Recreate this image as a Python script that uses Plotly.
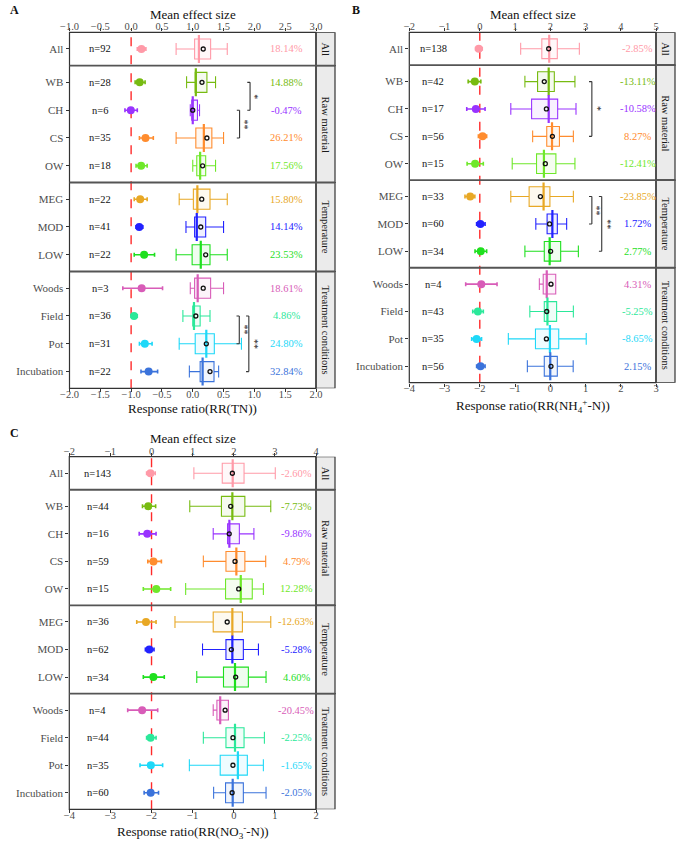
import plotly.graph_objects as go

# ---------------- data ----------------
group_names = ["All", "Raw material", "Temperature", "Treatment conditions"]
group_cats = [["All"], ["WB", "CH", "CS", "OW"], ["MEG", "MOD", "LOW"],
              ["Woods", "Field", "Pot", "Incubation"]]
categories = [c for g in group_cats for c in g]
colors = ["#FF9AA8", "#77BB11", "#9933FF", "#FF8C2E", "#6FE82A", "#E8A825",
          "#2222FF", "#1EE01E", "#D85CB8", "#2BE89A", "#1ED8F8", "#3B73DB"]

# Panel A : TN
nA = [92, 28, 6, 35, 18, 22, 41, 22, 3, 36, 31, 22]
pctA = [18.14, 14.88, -0.47, 26.21, 17.56, 15.80, 14.14, 23.53, 18.61, 4.86, 24.80, 32.84]
effA = [0.167, 0.139, -0.005, 0.233, 0.162, 0.147, 0.132, 0.211, 0.171, 0.047, 0.222, 0.284]
ciloA = [0.10, 0.065, -0.10, 0.135, 0.08, 0.05, 0.08, 0.05, -0.135, 0.0, 0.135, 0.16]
cihiA = [0.24, 0.227, 0.10, 0.36, 0.26, 0.26, 0.19, 0.38, 0.51, 0.10, 0.34, 0.43]
wloA = [-0.27, -0.10, -0.04, -0.27, 0.00, -0.22, -0.11, -0.27, -0.04, -0.16, -0.22, -0.055]
q1A = [0.03, 0.04, -0.016, 0.05, 0.065, 0.01, 0.03, -0.01, 0.03, 0.0, 0.04, 0.12]
medA = [0.10, 0.05, 0.0, 0.18, 0.12, 0.075, 0.065, 0.13, 0.08, 0.02, 0.22, 0.16]
q3A = [0.29, 0.23, 0.076, 0.31, 0.21, 0.28, 0.21, 0.28, 0.29, 0.12, 0.35, 0.345]
whiA = [0.56, 0.37, 0.11, 0.50, 0.37, 0.56, 0.50, 0.56, 0.50, 0.28, 0.79, 0.42]
meanA = [0.17, 0.15, 0.0, 0.23, 0.16, 0.146, 0.13, 0.21, 0.17, 0.05, 0.22, 0.28]

# Panel B : NH4+-N
nB = [138, 42, 17, 56, 15, 33, 60, 34, 4, 43, 35, 56]
pctB = [-2.85, -13.11, -10.58, 8.27, -12.41, -23.85, 1.72, 2.77, 4.31, -5.25, -8.65, 2.15]
effB = [-0.029, -0.141, -0.112, 0.079, -0.133, -0.272, 0.017, 0.027, 0.042, -0.054, -0.091, 0.021]
ciloB = [-0.12, -0.33, -0.37, -0.04, -0.36, -0.42, -0.09, -0.135, -0.40, -0.20, -0.23, -0.09]
cihiB = [0.07, 0.03, 0.15, 0.195, 0.10, -0.14, 0.15, 0.195, 0.49, 0.10, 0.05, 0.15]
wloB = [-0.84, -0.72, -1.12, -0.50, -1.08, -1.12, -0.41, -0.72, -0.31, -0.58, -1.19, -0.65]
q1B = [-0.24, -0.36, -0.53, -0.10, -0.39, -0.60, -0.09, -0.17, -0.20, -0.17, -0.42, -0.17]
medB = [-0.03, -0.045, -0.045, 0.05, -0.18, -0.19, 0.06, -0.017, -0.10, -0.08, -0.01, 0.0]
q3B = [0.20, 0.115, 0.21, 0.26, 0.16, -0.01, 0.20, 0.295, 0.155, 0.18, 0.24, 0.20]
whiB = [0.825, 0.70, 0.73, 0.655, 0.70, 0.655, 0.465, 0.797, 0.155, 0.655, 1.02, 0.65]
meanB = [-0.045, -0.17, -0.11, 0.06, -0.14, -0.28, -0.02, 0.01, 0.02, -0.10, -0.11, 0.02]

# Panel C : NO3--N
nC = [143, 44, 16, 59, 15, 36, 62, 34, 4, 44, 35, 60]
pctC = [-2.60, -7.73, -9.86, 4.79, 12.28, -12.63, -5.28, 4.60, -20.45, -2.25, -1.65, -2.05]
effC = [-0.026, -0.080, -0.104, 0.047, 0.116, -0.135, -0.054, 0.045, -0.229, -0.023, -0.017, -0.021]
ciloC = [-0.12, -0.22, -0.30, -0.09, -0.20, -0.36, -0.15, -0.20, -0.58, -0.12, -0.28, -0.18]
cihiC = [0.09, 0.10, 0.11, 0.24, 0.465, 0.11, 0.06, 0.31, 0.15, 0.11, 0.27, 0.17]
wloC = [-0.97, -1.07, -0.50, -0.74, -1.17, -1.43, -0.76, -0.90, -0.50, -0.74, -1.08, -0.49]
q1C = [-0.28, -0.30, -0.15, -0.19, -0.20, -0.50, -0.19, -0.25, -0.41, -0.19, -0.33, -0.20]
medC = [-0.026, -0.034, -0.107, 0.063, 0.17, -0.034, -0.034, 0.03, -0.33, 0.03, 0.10, -0.026]
q3C = [0.25, 0.27, 0.136, 0.27, 0.45, 0.21, 0.233, 0.355, -0.13, 0.25, 0.33, 0.233]
whiC = [1.01, 0.90, 0.49, 0.777, 0.72, 0.90, 0.60, 0.785, -0.13, 0.745, 0.72, 0.785]
meanC = [-0.034, -0.075, -0.11, 0.03, 0.12, -0.16, -0.06, 0.047, -0.21, -0.02, -0.02, -0.04]

# significance brackets: (from, to, x on response-ratio axis, label)
sigA = [("WB", "CH", 0.93, "*"), ("CH", "CS", 0.76, "**"),
        ("Field", "Pot", 0.755, "**"), ("Field", "Incubation", 0.91, "**")]
sigB = [("WB", "CS", 1.18, "*"), ("MEG", "MOD", 1.18, "**"), ("MEG", "LOW", 1.46, "**")]
sigC = []

# ---------------- layout helpers ----------------
W, H = 685, 849
FONT = "Liberation Serif"


def px(x):
    return x / W


def py(y):
    return 1 - y / H


def rgba(hexc, a):
    h = hexc.lstrip("#")
    return "rgba(%d,%d,%d,%.2f)" % (int(h[0:2], 16), int(h[2:4], 16), int(h[4:6], 16), a)


def ann(**kw):
    d = dict(showarrow=False, xanchor="center", yanchor="middle")
    d.update(kw)
    return d


# row positions (facets with 0.6 padding, ggplot-like)
pos = {}
bounds = []
cur = 0.0
for cats in group_cats:
    start = cur
    for i, c in enumerate(cats):
        pos[c] = start + 0.6 + i
    cur = start + len(cats) - 1 + 1.2
    bounds.append((start, cur))
YMAX = cur

panels = [
    dict(letter="A", x0=69.5, x1=316, y0=32.3, y1=388.3, s1=335, bottom=[-2, 2], top=[-1, 3],
         dtick=0.5, fmt=".1f", nx=100, px_=286.7, title_y=14.7, xt_y=408,
         xtitle="Response ratio(RR(TN))", lx=14, ly=10, stub=0.045,
         n=nA, pct=pctA, eff=effA, lo=ciloA, hi=cihiA, wlo=wloA, q1=q1A, med=medA, q3=q3A,
         whi=whiA, mean=meanA, sig=sigA),
    dict(letter="B", x0=409.3, x1=656, y0=32.3, y1=382.7, s1=675, bottom=[-4, 3], top=[-2, 5],
         dtick=1, fmt="d", nx=433, px_=637.7, title_y=14.7, xt_y=406,
         xtitle="Response ratio(RR(NH<sub>4</sub><sup>+</sup>-N))", lx=356, ly=10, stub=0.08,
         n=nB, pct=pctB, eff=effB, lo=ciloB, hi=cihiB, wlo=wloB, q1=q1B, med=medB, q3=q3B,
         whi=whiB, mean=meanB, sig=sigB),
    dict(letter="C", x0=69.3, x1=316, y0=456.7, y1=809.3, s1=335, bottom=[-4, 2], top=[-2, 4],
         dtick=1, fmt="d", nx=98, px_=296, title_y=438.3, xt_y=832,
         xtitle="Response ratio(RR(NO<sub>3</sub><sup>-</sup>-N))", lx=14, ly=433, stub=0.07,
         n=nC, pct=pctC, eff=effC, lo=ciloC, hi=cihiC, wlo=wloC, q1=q1C, med=medC, q3=q3C,
         whi=whiC, mean=meanC, sig=sigC),
]

fig = go.Figure()
layout = dict(width=W, height=H, margin=dict(l=0, r=0, t=0, b=0, autoexpand=False),
              paper_bgcolor="white", plot_bgcolor="white", showlegend=False,
              font=dict(family=FONT, color="#1a1a1a"), boxmode="overlay")
shapes = []
annotations = []

for i, p in enumerate(panels):
    bid, tid, yid = 2 * i + 1, 2 * i + 2, i + 1
    xb = "x" if bid == 1 else "x%d" % bid
    xt = "x%d" % tid
    yr = "y" if yid == 1 else "y%d" % yid
    xb_key = "xaxis" if bid == 1 else "xaxis%d" % bid
    xt_key = "xaxis%d" % tid
    y_key = "yaxis" if yid == 1 else "yaxis%d" % yid

    tickfont = dict(family=FONT, size=10.5, color="#4d4d4d")
    common_x = dict(dtick=p["dtick"], tick0=0, tickformat=p["fmt"], showgrid=False,
                    zeroline=False, ticks="outside", ticklen=3, tickcolor="#333",
                    tickfont=tickfont, showline=False, automargin=False)
    layout[xb_key] = dict(domain=[px(p["x0"]), px(p["x1"])], anchor=yr, range=p["bottom"],
                          ticklabelstandoff=-7, **common_x)
    layout[xt_key] = dict(overlaying=xb, anchor=yr, side="top", range=p["top"],
                          ticklabelstandoff=-6, **common_x)
    layout[y_key] = dict(domain=[py(p["y1"]), py(p["y0"])], anchor=xb, range=[YMAX, 0],
                         tickvals=[pos[c] for c in categories], ticktext=categories,
                         showgrid=False, zeroline=False, ticks="outside", ticklen=3,
                         tickcolor="#333", automargin=False, ticklabelstandoff=0,
                         tickfont=dict(family=FONT, size=11, color="#4d4d4d"))

    # reference dashed line at mean effect size 0
    shapes.append(dict(type="line", xref=xt, yref=yr + " domain", x0=0, x1=0, y0=0, y1=1,
                       line=dict(color="#FF2A2A", width=1.4, dash="dash"), layer="below"))

    for j, c in enumerate(categories):
        col = colors[j]
        yv = pos[c]
        fig.add_trace(go.Box(orientation="h", y=[yv], q1=[p["q1"][j]], median=[p["med"][j]],
                             q3=[p["q3"][j]], lowerfence=[p["wlo"][j]], upperfence=[p["whi"][j]],
                             width=0.72, whiskerwidth=0.6, boxpoints=False,
                             line=dict(color=col, width=1.1), fillcolor=rgba(col, 0.07),
                             xaxis=xb, yaxis=yr, hoverinfo="skip"))
        # effect size point with CI
        fig.add_trace(go.Scatter(x=[p["eff"][j]], y=[yv], xaxis=xt, yaxis=yr, mode="markers",
                                 marker=dict(color=col, size=8, symbol="circle"),
                                 error_x=dict(type="data", symmetric=False,
                                              array=[p["hi"][j] - p["eff"][j]],
                                              arrayminus=[p["eff"][j] - p["lo"][j]],
                                              color=col, thickness=1.6, width=2),
                                 hoverinfo="skip"))
    # thick median lines
    fig.add_trace(go.Scatter(x=p["med"], y=[pos[c] for c in categories], xaxis=xb, yaxis=yr,
                             mode="markers",
                             marker=dict(symbol="line-ns", size=20,
                                         line=dict(width=2.2, color=colors)),
                             hoverinfo="skip"))
    # mean points in boxes
    fig.add_trace(go.Scatter(x=p["mean"], y=[pos[c] for c in categories], xaxis=xb, yaxis=yr,
                             mode="markers",
                             marker=dict(symbol="circle-open", size=4, color="#111",
                                         line=dict(width=1.3, color="#111")),
                             hoverinfo="skip"))

    # facet separators, border, strips
    for (gname, (s, e)) in zip(group_names, bounds):
        shapes.append(dict(type="rect", xref="paper", yref=yr, x0=px(p["x1"]), x1=px(p["s1"]),
                           y0=s, y1=e, fillcolor="#EBEBEB", line=dict(color="#333", width=1.2),
                           layer="below"))
        annotations.append(ann(text=gname, xref="paper", yref=yr,
                               x=px((p["x1"] + p["s1"]) / 2), y=(s + e) / 2,
                               textangle=90, font=dict(family=FONT, size=10.5, color="#1a1a1a")))
    shapes.append(dict(type="rect", xref=xb + " domain", yref=yr + " domain", x0=0, x1=1,
                       y0=0, y1=1, line=dict(color="#333", width=1.2)))
    for (s, e) in bounds[:-1]:
        shapes.append(dict(type="line", xref="paper", yref=yr, x0=px(p["x0"]), x1=px(p["s1"]),
                           y0=e, y1=e, line=dict(color="#555", width=1.8)))

    # n labels and percentages
    for j, c in enumerate(categories):
        annotations.append(ann(text="n=%d" % p["n"][j], xref="paper", yref=yr, x=px(p["nx"]),
                               y=pos[c], font=dict(family=FONT, size=10.5, color="#111")))
        annotations.append(ann(text="%.2f%%" % p["pct"][j], xref="paper", yref=yr,
                               x=px(p["px_"]), y=pos[c],
                               font=dict(family=FONT, size=10.5, color=colors[j])))

    # significance brackets
    for (a, b, xs, lab) in p["sig"]:
        ya, yb = pos[a], pos[b]
        shapes.append(dict(type="line", xref=xb, yref=yr, x0=xs, x1=xs, y0=ya, y1=yb,
                           line=dict(color="#333", width=1.1)))
        for yy in (ya, yb):
            shapes.append(dict(type="line", xref=xb, yref=yr, x0=xs - p["stub"], x1=xs,
                               y0=yy, y1=yy, line=dict(color="#333", width=1.1)))
        annotations.append(ann(text=lab, xref=xb, yref=yr, x=xs, y=(ya + yb) / 2,
                               xshift=5, textangle=90,
                               font=dict(family=FONT, size=10, color="#222")))

    # titles
    xc = px((p["x0"] + p["x1"]) / 2)
    annotations.append(ann(text="Mean effect size", xref="paper", yref="paper", x=xc,
                           y=py(p["title_y"]), font=dict(family=FONT, size=13, color="#111")))
    annotations.append(ann(text=p["xtitle"], xref="paper", yref="paper", x=xc,
                           y=py(p["xt_y"]), font=dict(family=FONT, size=13, color="#111")))
    annotations.append(ann(text="<b>%s</b>" % p["letter"], xref="paper", yref="paper",
                           x=px(p["lx"]), y=py(p["ly"]),
                           font=dict(family=FONT, size=12, color="#111")))

layout["shapes"] = shapes
layout["annotations"] = annotations
fig.update_layout(**layout)
fig.write_html("out.html", config={"displayModeBar": False},
               post_script="document.body.style.margin='0';")
